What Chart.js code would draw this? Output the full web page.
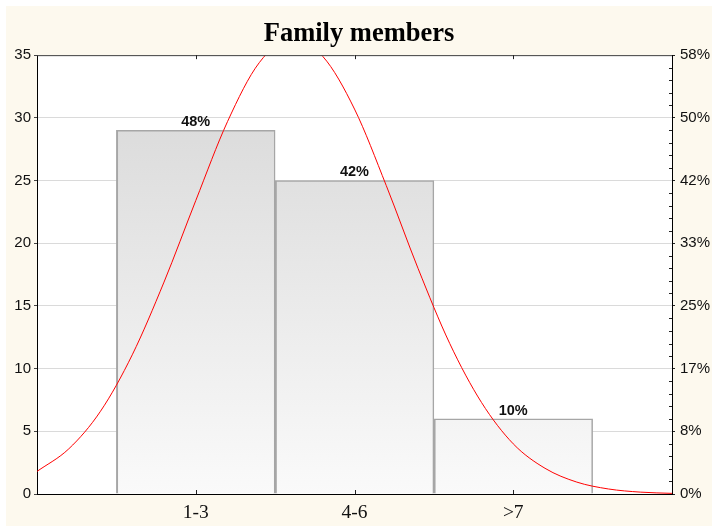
<!DOCTYPE html>
<html>
<head>
<meta charset="utf-8">
<script src="https://cdn.jsdelivr.net/npm/chart.js@4/dist/chart.umd.min.js"></script>
<style>
	html, body { margin: 0; padding: 0; background: #ffffff; }
	#wrap { position: absolute; left: 6px; top: 6px; width: 706px; height: 520px; background: #fdf9ee; }
</style>
</head>
<body>
<div id="wrap"><canvas id="chart__hist" width="706" height="520"></canvas></div>
<script>
// Categories and counts
const categories = ["1-3", "4-6", ">7"];
const counts = [29, 25, 6];
const percentLabels = ["48%", "42%", "10%"];

// Right axis labels (percent of total, one per major tick)
const percentTicks = ["0%", "8%", "17%", "25%", "33%", "42%", "50%", "58%"];

// Fitted normal curve (x in category units)
const curveX = [0, 0.2, 0.4, 0.6, 0.8, 1.0, 1.2, 1.4, 1.6, 1.8, 2.0, 2.2, 2.4, 2.6, 2.8, 3.0, 3.2, 3.4, 3.6, 3.8, 4.0];
const curveY = [1.8, 3.6, 6.6, 11.1, 16.9, 23.4, 29.7, 34.4, 36.3, 34.9, 30.7, 24.6, 18.0, 12.0, 7.3, 4.0, 2.05, 0.95, 0.4, 0.15, 0.05];

document.addEventListener("DOMContentLoaded", () => {
	initChartHist();
});

// Gradient across the whole plot area, darker at the top
const barGradient = (context) => {
	const { chart } = context;
	const area = chart.chartArea;
	if (!area) return "#e8e8e8";
	const g = chart.ctx.createLinearGradient(0, area.top, 0, area.bottom);
	g.addColorStop(0, "#d6d6d6");
	g.addColorStop(1, "#fafafa");
	return g;
};

// Frame, inner tick marks and percent labels above bars
const decorPlugin = () => ({
	id: "decor",
	beforeDraw: (chart) => {
		const { left, top, width, height } = chart.chartArea;
		chart.ctx.save();
		chart.ctx.fillStyle = "#ffffff";
		chart.ctx.fillRect(left, top, width, height);
		chart.ctx.restore();
	},
	afterDraw: (chart) => {
		const ctx = chart.ctx;
		const { left, right, top, bottom } = chart.chartArea;
		const x = chart.scales.x;
		const y = chart.scales.y;
		ctx.save();

		// top frame line
		ctx.strokeStyle = "#444";
		ctx.lineWidth = 1;
		ctx.beginPath();
		ctx.moveTo(left, top + 0.5);
		ctx.lineTo(right, top + 0.5);
		ctx.stroke();

		// inner category ticks, top and bottom
		ctx.strokeStyle = "#222";
		categories.forEach((_, i) => {
			const px = Math.round(x.getPixelForValue(i + 1)) + 0.5;
			ctx.beginPath();
			ctx.moveTo(px, top);
			ctx.lineTo(px, top + 4);
			ctx.moveTo(px, bottom);
			ctx.lineTo(px, bottom - 4);
			ctx.stroke();
		});

		// minor ticks on the right axis, inside
		for (let v = 1; v < 35; v++) {
			if (v % 5 === 0) continue;
			const py = Math.round(y.getPixelForValue(v)) + 0.5;
			ctx.beginPath();
			ctx.moveTo(right, py);
			ctx.lineTo(right - 3, py);
			ctx.stroke();
		}

		// percent labels over the bars
		const meta = chart.getDatasetMeta(0);
		ctx.font = "bold 14.5px 'Liberation Sans', Arial, sans-serif";
		ctx.fillStyle = "#111";
		ctx.textAlign = "center";
		ctx.textBaseline = "bottom";
		meta.data.forEach((bar, i) => {
			ctx.fillText(percentLabels[i], bar.x, bar.y - 1);
		});
		ctx.restore();
	},
});

const initChartHist = () => {
	const ctx = document.getElementById("chart__hist");
	if (!ctx) return;

	const data = {
		datasets: [
			{
				type: "bar",
				data: counts.map((c, i) => ({ x: i + 1, y: c })),
				backgroundColor: barGradient,
				borderColor: "#a6a6a6",
				borderWidth: { top: 1.5, left: 2, right: 1.5, bottom: 0 },
				barPercentage: 1,
				categoryPercentage: 1,
				order: 2,
			},
			{
				type: "line",
				data: curveX.map((cx, i) => ({ x: cx, y: curveY[i] })),
				borderColor: "#ff0000",
				borderWidth: 1,
				pointRadius: 0,
				fill: false,
				cubicInterpolationMode: "monotone",
				order: 1,
			},
		],
	};

	const options = {
		responsive: false,
		animation: false,
		layout: { padding: 0 },
		plugins: {
			legend: { display: false },
			tooltip: { enabled: false },
			title: {
				display: true,
				text: "Family members",
				color: "#000",
				font: { family: "'Liberation Serif', 'Times New Roman', serif", size: 26.5, weight: "bold", lineHeight: 1.1 },
				padding: { top: 13.5, bottom: 6.5 },
			},
		},
		scales: {
			x: {
				type: "linear",
				min: 0,
				max: 4,
				offset: false,
				ticks: {
					stepSize: 1,
					padding: 7,
					color: "#111",
					font: { family: "'Liberation Serif', 'Times New Roman', serif", size: 19.5 },
					callback: (v) => categories[v - 1] || "",
				},
				grid: { display: false, drawTicks: false },
				border: { display: true, color: "#000", width: 1 },
				afterFit: (s) => { s.height = 32; },
			},
			y: {
				position: "left",
				min: 0,
				max: 35,
				ticks: {
					stepSize: 5,
					padding: 3,
					color: "#111",
					font: { family: "'Liberation Sans', Arial, sans-serif", size: 15 },
				},
				grid: { color: "#dadada", tickColor: "#444", tickLength: 3 },
				border: { display: true, color: "#000", width: 1 },
				afterFit: (s) => { s.width = 31; },
			},
			y2: {
				position: "right",
				min: 0,
				max: 35,
				ticks: {
					stepSize: 5,
					padding: 5,
					color: "#111",
					font: { family: "'Liberation Sans', Arial, sans-serif", size: 15 },
					callback: (v) => percentTicks[v / 5],
				},
				grid: { drawOnChartArea: false, tickColor: "#222", tickLength: 3 },
				border: { display: true, color: "#000", width: 1 },
				afterFit: (s) => { s.width = 40; },
			},
		},
	};

	// eslint-disable-next-line no-undef
	new Chart(ctx, { data, options, plugins: [decorPlugin()] });
};
</script>
</body>
</html>
